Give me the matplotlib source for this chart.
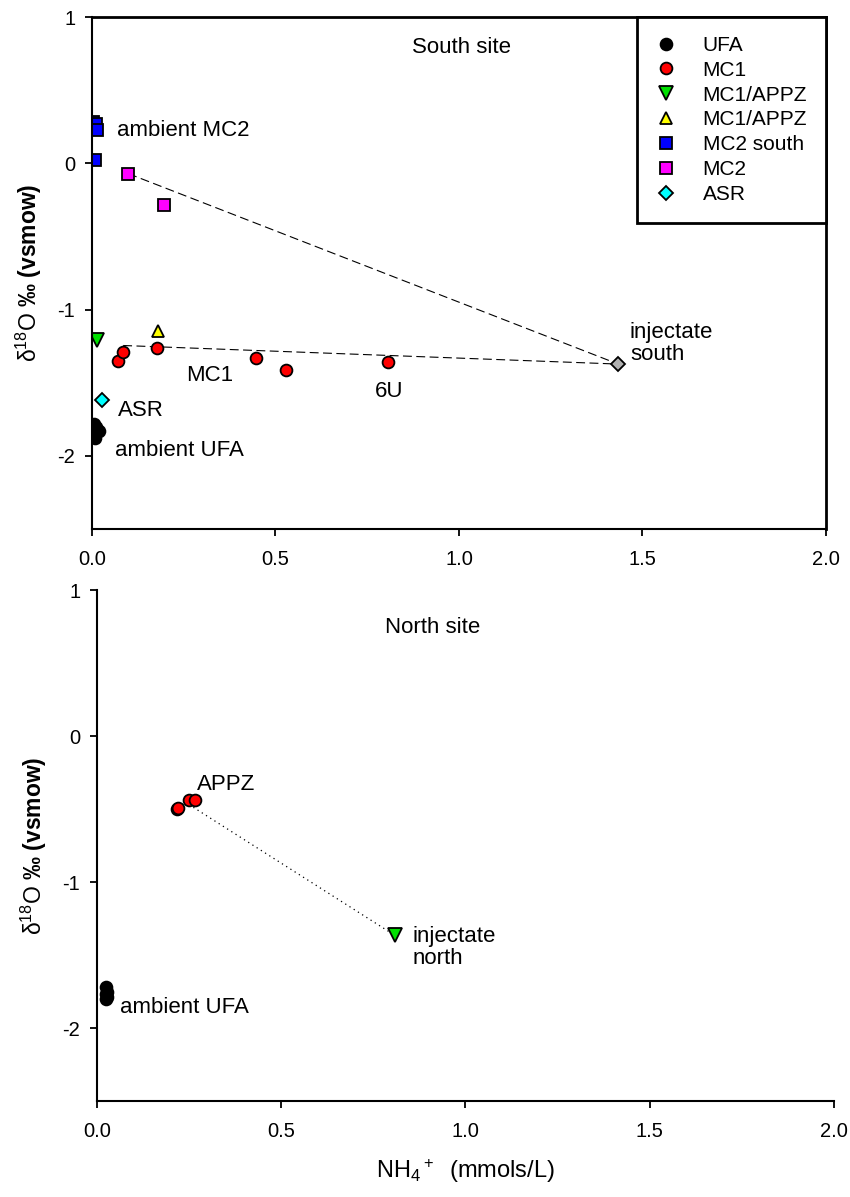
import matplotlib.pyplot as plt
import numpy as np

plt.rcParams['font.family'] = ['Liberation Sans', 'DejaVu Sans']
plt.rcParams['mathtext.fontset'] = 'custom'
plt.rcParams['mathtext.rm'] = 'Liberation Sans'
plt.rcParams['mathtext.it'] = 'Liberation Sans:italic'
plt.rcParams['mathtext.bf'] = 'Liberation Sans:bold'
plt.rcParams['axes.unicode_minus'] = False

# south site
ufa_s_x = [0.005, 0.010, 0.015, 0.020, 0.008]
ufa_s_y = [-1.78, -1.80, -1.82, -1.83, -1.88]
mc1_x = [0.072, 0.085, 0.176, 0.447, 0.528, 0.807]
mc1_y = [-1.35, -1.29, -1.26, -1.33, -1.41, -1.36]
mc1appz_dn_x = [0.013]
mc1appz_dn_y = [-1.21]
mc1appz_up_x = [0.180]
mc1appz_up_y = [-1.145]
mc2s_x = [0.003, 0.010, 0.013, 0.008]
mc2s_y = [0.28, 0.27, 0.225, 0.025]
mc2_x = [0.099, 0.196]
mc2_y = [-0.07, -0.287]
asr_x = [0.026]
asr_y = [-1.62]
inj_s_x = [1.434]
inj_s_y = [-1.372]
mix1_x = [0.099, 1.434]
mix1_y = [-0.07, -1.372]
mix2_x = [0.085, 1.434]
mix2_y = [-1.245, -1.372]

# north site
ufa_n_x = [0.024, 0.026, 0.025, 0.027, 0.025]
ufa_n_y = [-1.72, -1.75, -1.77, -1.79, -1.80]
appz_x = [0.216, 0.220, 0.250, 0.266]
appz_y = [-0.50, -0.49, -0.44, -0.44]
inj_n_x = [0.808]
inj_n_y = [-1.365]
mix3_x = [0.25, 0.808]
mix3_y = [-0.47, -1.365]

ticks_x = [0.0, 0.5, 1.0, 1.5, 2.0]
ticks_y = [-2, -1, 0, 1]

fig = plt.figure(figsize=(8.5, 11.97), dpi=100)
ax1 = fig.add_axes([0.1082, 0.558, 0.8635, 0.4277])
ax2 = fig.add_axes([0.1141, 0.0802, 0.867, 0.4269])

ms = 8.5
mk = dict(linestyle='none', markeredgecolor='black', markeredgewidth=1.3)

ax1.plot(mix1_x, mix1_y, color='black', lw=0.8, dashes=(8, 4))
ax1.plot(mix2_x, mix2_y, color='black', lw=0.8, dashes=(8, 4))
ax1.plot(ufa_s_x, ufa_s_y, marker='o', color='black', ms=ms, label='UFA', **mk)
ax1.plot(mc1_x, mc1_y, marker='o', color='red', ms=ms, label='MC1', **mk)
ax1.plot(mc1appz_dn_x, mc1appz_dn_y, marker='v', color='#00e000', ms=ms + 1,
         label='MC1/APPZ', **mk)
ax1.plot(mc1appz_up_x, mc1appz_up_y, marker='^', color='yellow', ms=ms,
         label='MC1/APPZ', **mk)
ax1.plot(mc2s_x, mc2s_y, marker='s', color='blue', ms=ms, label='MC2 south', **mk)
ax1.plot(mc2_x, mc2_y, marker='s', color='magenta', ms=ms, label='MC2', **mk)
ax1.plot(asr_x, asr_y, marker='D', color='cyan', ms=ms - 1, label='ASR', **mk)
ax1.plot(inj_s_x, inj_s_y, marker='D', color='#b0b0b0', ms=ms - 1, **mk)

fs = 16
ax1.text(1.008, 0.795, 'South site', ha='center', va='center', fontsize=fs)
ax1.text(0.068, 0.225, 'ambient MC2', va='center', fontsize=fs)
ax1.text(0.32, -1.45, 'MC1', ha='center', va='center', fontsize=fs)
ax1.text(0.81, -1.56, '6U', ha='center', va='center', fontsize=fs)
ax1.text(0.07, -1.69, 'ASR', va='center', fontsize=fs)
ax1.text(0.063, -1.96, 'ambient UFA', va='center', fontsize=fs)
ax1.text(1.466, -1.23, 'injectate\nsouth', va='center', fontsize=fs,
         linespacing=1.05)

leg = ax1.legend(loc='upper right', bbox_to_anchor=(1, 1), borderaxespad=0,
                 fancybox=False, edgecolor='black', framealpha=1, fontsize=15,
                 handlelength=1.0, handletextpad=1.25, borderpad=0.9,
                 labelspacing=0.28)
leg.get_frame().set_linewidth(2)

ax2.plot(mix3_x, mix3_y, color='black', lw=0.9, linestyle=(0, (1, 3)))
ax2.plot(ufa_n_x, ufa_n_y, marker='o', color='black', ms=ms, **mk)
ax2.plot(appz_x, appz_y, marker='o', color='red', ms=ms, **mk)
ax2.plot(inj_n_x, inj_n_y, marker='v', color='#00e000', ms=ms + 1, **mk)

ax2.text(0.91, 0.74, 'North site', ha='center', va='center', fontsize=fs)
ax2.text(0.27, -0.33, 'APPZ', va='center', fontsize=fs)
ax2.text(0.856, -1.45, 'injectate\nnorth', va='center', fontsize=fs,
         linespacing=1.05)
ax2.text(0.062, -1.86, 'ambient UFA', va='center', fontsize=fs)

ylab = r'δ$^{18}$O $\mathbf{‰\ (vsmow)}$'
for ax in (ax1, ax2):
    ax.set_xlim(0, 2.0)
    ax.set_ylim(-2.5, 1.0)
    ax.set_xticks(ticks_x)
    ax.set_yticks(ticks_y)
    ax.xaxis.set_major_formatter(plt.FormatStrFormatter('%.1f'))
    ax.tick_params(direction='out', length=5, width=1.3, labelsize=14.5)
    ax.tick_params(axis='x', pad=10)
    ax.tick_params(axis='y', pad=7)
    ax.set_ylabel(ylab, fontsize=16.5, labelpad=10)
    for s in ax.spines.values():
        s.set_linewidth(1.5)

ax1.spines['top'].set_linewidth(2)
ax1.spines['right'].set_linewidth(2)
ax2.spines['top'].set_visible(False)
ax2.spines['right'].set_visible(False)

ax2.set_xlabel(r'NH$_4$$^+$  (mmols/L)', fontsize=17, labelpad=12)

fig.savefig('out.png', dpi=100)
